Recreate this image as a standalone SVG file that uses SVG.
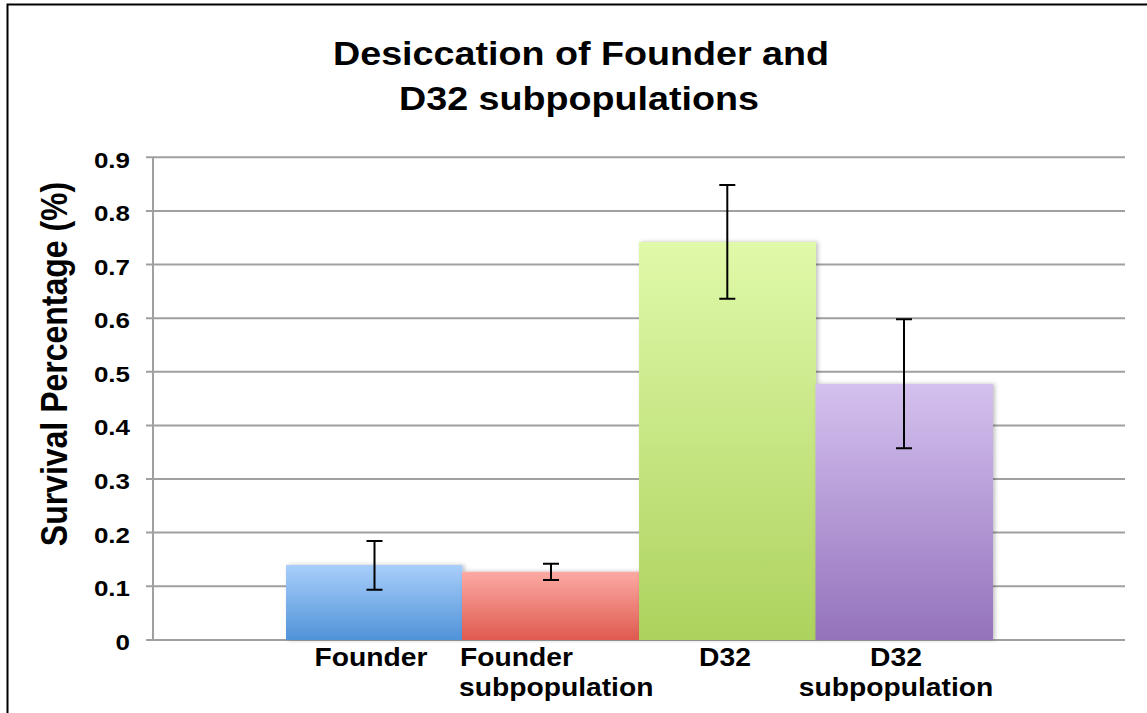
<svg xmlns="http://www.w3.org/2000/svg" width="1147" height="713" viewBox="0 0 1147 713">
  <style>
    .grid { stroke: #a0a0a0; stroke-width: 2; fill: none; }
    .axis { stroke: #a0a0a0; stroke-width: 2; fill: none; }
    .tick { font-family: "Liberation Sans", Arial, sans-serif; font-weight: bold; font-size: 22px; fill: #000; text-anchor: end; }
    .title { font-family: "Liberation Sans", Arial, sans-serif; font-weight: bold; font-size: 33.5px; fill: #000; text-anchor: middle; }
    .cat { font-family: "Liberation Sans", Arial, sans-serif; font-weight: bold; font-size: 25px; fill: #000; }
    .ytitle { font-family: "Liberation Sans", Arial, sans-serif; font-weight: bold; font-size: 32px; fill: #000; text-anchor: middle; }
    .err { stroke: #000; stroke-width: 2; fill: none; }
  </style>
  <defs>
    <linearGradient id="gBlue" x1="0" y1="0" x2="0" y2="1">
      <stop offset="0" stop-color="#a9cefb"/>
      <stop offset="1" stop-color="#5093d8"/>
    </linearGradient>
    <linearGradient id="gRed" x1="0" y1="0" x2="0" y2="1">
      <stop offset="0" stop-color="#fcaaa4"/>
      <stop offset="1" stop-color="#df5a4f"/>
    </linearGradient>
    <linearGradient id="gGreen" x1="0" y1="0" x2="0" y2="1">
      <stop offset="0" stop-color="#e0f9aa"/>
      <stop offset="1" stop-color="#add25d"/>
    </linearGradient>
    <linearGradient id="gPurple" x1="0" y1="0" x2="0" y2="1">
      <stop offset="0" stop-color="#d4c1ef"/>
      <stop offset="1" stop-color="#9472bc"/>
    </linearGradient>
    <filter id="barShadow" x="-10%" y="-10%" width="120%" height="120%">
      <feDropShadow dx="2" dy="0" stdDeviation="2" flood-color="#000" flood-opacity="0.25"/>
    </filter>
  </defs>

  <rect x="0" y="0" width="1147" height="713" fill="#fff"/>
  <!-- chart frame -->
  <path d="M7.5 713 V4.5 H1147" stroke="#000" stroke-width="2" fill="none"/>

  <!-- title (wide face: horizontally stretched) -->
  <g id="title">
    <text class="title" transform="translate(581 65) scale(1.125 1)">Desiccation of Founder and</text>
    <text class="title" transform="translate(579 110) scale(1.125 1)">D32 subpopulations</text>
  </g>

  <!-- gridlines and axis -->
  <g id="grid">
    <path class="grid" d="M146 157.3 H1125 M146 211 H1125 M146 264.6 H1125 M146 318.2 H1125 M146 371.8 H1125 M146 425.4 H1125 M146 479 H1125 M146 532.6 H1125 M146 586.2 H1125 M146 640 H1125"/>
    <path class="axis" d="M153 157.3 V640"/>
  </g>

  <!-- y tick labels -->
  <g id="yticks">
    <text class="tick" transform="translate(130 167.5) scale(1.18 1)">0.9</text>
    <text class="tick" transform="translate(130 221) scale(1.18 1)">0.8</text>
    <text class="tick" transform="translate(130 274.5) scale(1.18 1)">0.7</text>
    <text class="tick" transform="translate(130 328) scale(1.18 1)">0.6</text>
    <text class="tick" transform="translate(130 381.5) scale(1.18 1)">0.5</text>
    <text class="tick" transform="translate(130 435) scale(1.18 1)">0.4</text>
    <text class="tick" transform="translate(130 489) scale(1.18 1)">0.3</text>
    <text class="tick" transform="translate(130 542.5) scale(1.18 1)">0.2</text>
    <text class="tick" transform="translate(130 596) scale(1.18 1)">0.1</text>
    <text class="tick" transform="translate(130 650) scale(1.18 1)">0</text>
  </g>

  <!-- y axis title -->
  <text class="ytitle" transform="translate(67 364) scale(1.13 1) rotate(-90)">Survival Percentage (%)</text>

  <!-- bars -->
  <g id="bar-founder">
    <rect x="286" y="565" width="176.5" height="75" fill="url(#gBlue)" filter="url(#barShadow)"/>
  </g>
  <g id="bar-founder-sub">
    <rect x="462" y="571.7" width="177" height="68.3" fill="url(#gRed)" filter="url(#barShadow)"/>
  </g>
  <g id="bar-d32">
    <rect x="639" y="242" width="177" height="398" fill="url(#gGreen)" filter="url(#barShadow)"/>
  </g>
  <g id="bar-d32-sub">
    <rect x="815.5" y="384" width="177.5" height="256" fill="url(#gPurple)" filter="url(#barShadow)"/>
  </g>

  <!-- error bars -->
  <g id="error-bars">
    <path class="err" d="M374.5 541 V589.7 M366.5 541 H382.5 M366.5 589.7 H382.5"/>
    <path class="err" d="M551 563.7 V580 M543 563.7 H559 M543 580 H559"/>
    <path class="err" d="M727.3 185 V298.7 M719.3 185 H735.3 M719.3 298.7 H735.3"/>
    <path class="err" d="M904 319.3 V448.3 M896 319.3 H912 M896 448.3 H912"/>
  </g>

  <!-- category labels -->
  <g id="xlabels">
    <text class="cat" text-anchor="middle" transform="translate(371 666) scale(1.13 1)">Founder</text>
    <text class="cat" transform="translate(460 666) scale(1.13 1)">Founder</text>
    <text class="cat" transform="translate(459 696) scale(1.13 1)">subpopulation</text>
    <text class="cat" text-anchor="middle" transform="translate(725 666) scale(1.13 1)">D32</text>
    <text class="cat" text-anchor="middle" transform="translate(896 666) scale(1.13 1)">D32</text>
    <text class="cat" text-anchor="middle" transform="translate(896 696) scale(1.13 1)">subpopulation</text>
  </g>
</svg>
